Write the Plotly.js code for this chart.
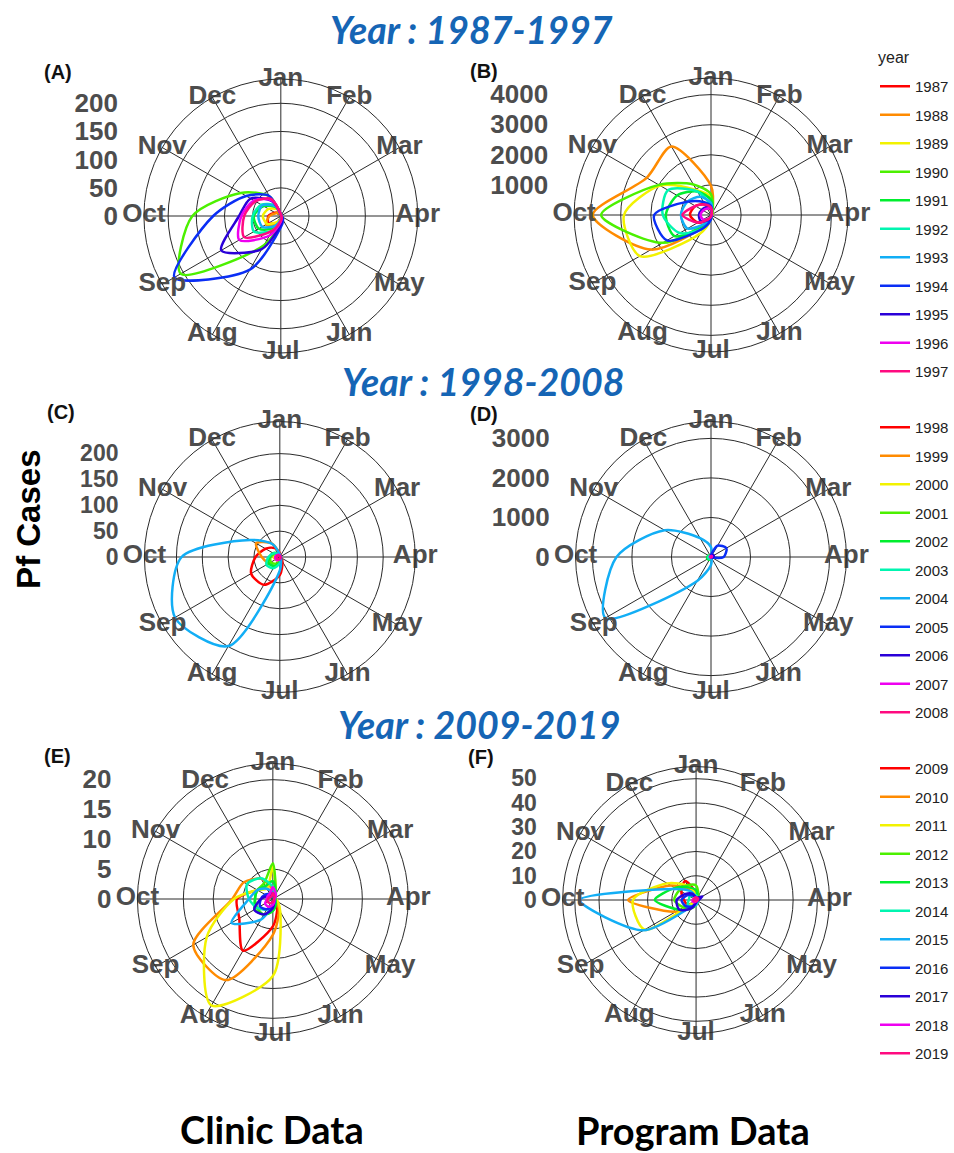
<!DOCTYPE html>
<html>
<head>
<meta charset="utf-8">
<script src="https://cdn.plot.ly/plotly-3.0.1.min.js"></script>
<style>html,body{margin:0;padding:0;background:#fff;}#chart{width:954px;height:1153px;}</style>
</head>
<body>
<div id="chart"></div>
<script>
// ---------- data ----------
const months = ['Jan','Feb','Mar','Apr','May','Jun','Jul','Aug','Sep','Oct','Nov','Dec'];
const yearColors = ['#FF0000','#FF8B00','#F2F200','#4CF000','#00EE2E','#00F5B0','#12AEF5','#0A2EF5','#2A00D8','#EE00F0','#FF0A80'];

const years1 = ['1987','1988','1989','1990','1991','1992','1993','1994','1995','1996','1997'];
const years2 = ['1998','1999','2000','2001','2002','2003','2004','2005','2006','2007','2008'];
const years3 = ['2009','2010','2011','2012','2013','2014','2015','2016','2017','2018','2019'];

// (A) Clinic data 1987-1997, Pf cases per month (Jan..Dec)
const clinicA = [
  [2,1,1,1,1,2,5,15,25,22,12,6],
  [2,1,1,1,1,2,6,18,30,20,10,5],
  [3,1,1,1,1,2,5,12,28,32,25,14],
  [2,1,1,1,2,5,12,60,205,157,82,40],
  [3,1,1,1,1,3,8,25,45,48,35,18],
  [3,1,1,1,1,3,8,30,55,50,40,22],
  [3,1,1,1,1,2,6,20,38,40,38,20],
  [3,2,1,1,3,8,20,110,218,120,71,41],
  [3,1,1,1,2,5,15,68,122,74,62,30],
  [3,1,1,1,1,3,10,40,85,70,55,32],
  [3,1,1,1,1,3,8,30,75,65,52,35]
];
// (B) Program data 1987-1997
const programB = [
  [150,50,20,10,10,20,50,200,500,700,600,400],
  [970,100,40,20,20,40,100,400,2300,3930,2470,2630],
  [600,80,30,20,20,50,150,700,2730,2890,1950,950],
  [690,80,30,20,20,40,100,300,1850,3650,2000,1170],
  [500,60,20,10,10,30,100,400,1400,1500,1300,900],
  [300,50,20,10,10,20,100,500,1200,1600,1650,900],
  [400,50,20,10,10,20,80,300,900,1000,900,700],
  [300,50,20,10,10,30,150,500,1690,1890,890,500],
  [200,40,10,10,10,20,60,200,400,400,350,300],
  [200,50,10,10,10,20,50,150,300,350,300,250],
  [250,50,10,10,10,20,50,150,500,950,600,400]
];
// (C) Clinic data 1998-2008
const clinicC = [
  [8,3,2,2,3,10,35,62,64,47,32,20],
  [5,2,1,1,1,3,10,20,25,35,53,30],
  [3,1,1,1,1,2,4,8,10,12,10,6],
  [4,1,1,1,1,3,8,15,20,18,12,8],
  [4,1,1,1,1,3,10,20,25,20,15,8],
  [3,1,1,1,1,3,12,25,30,22,14,6],
  [5,2,2,2,3,5,26,199,234,190,66,29],
  [3,2,1,1,1,2,4,6,8,8,6,4],
  [3,2,1,1,1,2,4,6,8,8,6,4],
  [3,2,1,1,1,2,4,7,9,9,7,5],
  [2,1,1,1,1,2,3,5,6,6,5,3]
];
// (D) Program data 1998-2008
const programD = [
  [10,5,5,5,5,10,30,60,80,60,30,15],
  [10,5,5,5,5,10,20,40,50,50,30,15],
  [10,5,5,5,5,10,20,30,40,40,30,15],
  [20,5,5,5,5,10,30,60,80,80,60,30],
  [25,5,5,5,5,10,40,80,100,100,70,40],
  [20,5,5,5,5,10,30,60,70,70,50,30],
  [250,20,10,10,15,30,200,700,3085,2390,1355,550],
  [50,330,450,320,30,10,10,10,10,20,20,20],
  [30,60,80,60,10,5,5,5,10,20,20,20],
  [20,30,30,20,10,5,5,10,20,30,30,20],
  [10,10,10,5,5,5,5,10,15,20,15,10]
];
// (E) Clinic data 2009-2019
const clinicE = [
  [1,0.5,0.3,0.3,0.5,1.5,4.6,10,6.5,6,3,2],
  [1.5,0.5,0.3,0.3,0.5,2,6,15.7,15.4,6.8,5.6,3.9],
  [5.5,1,0.5,0.5,1,2.5,12.9,20.6,12.8,6.5,3,2],
  [6,1,0.5,0.5,0.5,1,2,3,3,3,3,3],
  [3,1,0.5,0.5,0.5,1,2,3,3.5,3,3,2.5],
  [2,0.5,0.3,0.3,0.3,0.5,1,2,3,4,5,4],
  [1,0.3,0.2,0.2,0.3,0.5,1,4,8,4,3,2],
  [1,0.5,0.3,0.3,0.3,0.5,1,2,2.5,2,1.5,1],
  [1,0.5,0.3,0.3,0.3,0.5,1.5,3,3.6,2,1,0.5],
  [2,1,0.5,0.3,0.3,0.5,1,1.5,1.5,1,1,1],
  [1,0.5,0.3,0.2,0.2,0.3,0.5,0.8,1,0.8,0.6,0.5]
];
// (F) Program data 2009-2019
const programF = [
  [3,1,0.5,0.5,0.5,0.5,1,2,4,5,7,9],
  [3,1,0.5,0.5,0.5,0.5,1,2,9.6,28,12,5],
  [2,0.5,0.5,0.5,0.5,0.5,1,1,24.5,26,13.7,6.6],
  [6,2,1,0.5,0.5,1,2,3,6,9,8,7],
  [4,1,0.5,0.5,0.5,1,2,4,8,17,10,6],
  [2,1,0.5,0.5,0.5,1,2,3,4,3,3,2],
  [1,0.5,0.5,0.5,0.5,1,2,3,25,48,9,4],
  [1,1,2,1,0.5,0.5,1,3,5,6,4,2],
  [1,1,3,1,0.5,0.5,1,4,8,8,5,3],
  [1,0.5,0.5,0.5,0.5,0.5,0.5,1,1.5,1.5,1,1],
  [1,1,1,0.5,0.5,0.5,0.5,0.5,1,1,1,1]
];

// radial tick values per panel
const ticksA = [0,50,100,150,200];
const ticksB = [1000,2000,3000,4000];
const ticksC = [0,50,100,150,200];
const ticksD = [0,1000,2000,3000];
const ticksE = [0,5,10,15,20];
const ticksF = [0,10,20,30,40,50];

// ---------- layout geometry ----------
const W = 954, H = 1153;
const panels = [
  {id:'',  cx:282, cy:216, R:137.5, rmax:243,  grid:[50,100,150,200],      labels:ticksA, data:clinicA,  years:years1, legend:'legend',  fs:26},
  {id:'2', cx:714, cy:215, R:137.5, rmax:4550, grid:[1000,2000,3000,4000], labels:ticksB, data:programB, years:years1, legend:'legend',  fs:26},
  {id:'3', cx:281, cy:557, R:136,   rmax:262,  grid:[50,100,150,200],      labels:ticksC, data:clinicC,  years:years2, legend:'legend2', fs:23},
  {id:'4', cx:714, cy:557, R:136,   rmax:3425, grid:[1000,2000,3000],      labels:ticksD, data:programD, years:years2, legend:'legend2', fs:26},
  {id:'5', cx:274, cy:899, R:136,   rmax:22.7, grid:[5,10,15,20],          labels:ticksE, data:clinicE,  years:years3, legend:'legend3', fs:26},
  {id:'6', cx:699, cy:900, R:134,   rmax:55,   grid:[10,20,30,40,50],      labels:ticksF, data:programF, years:years3, legend:'legend3', fs:23}
];

const baseFamily = 'Liberation Sans, Arial, sans-serif';
const axisFont = {family:baseFamily, size:26, color:'#4d4d4d', weight:'bold'};
const gridCol = '#2b2b2b';

const traces = [];
const layout = {
  width: W, height: H,
  margin: {l:0, r:0, t:0, b:0},
  paper_bgcolor: '#ffffff',
  plot_bgcolor: 'rgba(0,0,0,0)',
  showlegend: true,
  annotations: []
};

panels.forEach((p, pi) => {
  const polarName = 'polar' + p.id;
  const inLegend = (pi % 2 === 0);
  p.data.forEach((vals, k) => {
    traces.push({
      type: 'scatterpolar',
      subplot: polarName,
      mode: 'lines',
      r: vals.concat([vals[0]]),
      theta: months.concat([months[0]]),
      name: p.years[k],
      legend: p.legend,
      legendgroup: p.years[k],
      showlegend: inLegend,
      line: {color: yearColors[k], width: 2.5, shape: 'spline', smoothing: 0.8},
      hoverinfo: 'skip'
    });
  });
  // month labels sitting on the outer ring
  traces.push({
    type: 'scatterpolar',
    subplot: polarName,
    mode: 'text',
    r: months.map(() => p.rmax),
    theta: months,
    text: months,
    textposition: 'middle center',
    textfont: axisFont,
    cliponaxis: false,
    showlegend: false,
    hoverinfo: 'skip'
  });

  layout[polarName] = {
    domain: {x: [(p.cx - p.R)/W, (p.cx + p.R)/W], y: [1 - (p.cy + p.R)/H, 1 - (p.cy - p.R)/H]},
    bgcolor: 'rgba(0,0,0,0)',
    angularaxis: {
      type: 'category', categoryorder: 'array', categoryarray: months,
      rotation: 90, direction: 'clockwise',
      showticklabels: false, ticks: '',
      showgrid: true, gridcolor: gridCol, gridwidth: 1,
      showline: true, linecolor: gridCol, linewidth: 1
    },
    radialaxis: {
      range: [0, p.rmax], tickvals: p.grid,
      showticklabels: false, ticks: '', showline: false,
      showgrid: true, gridcolor: gridCol, gridwidth: 1
    }
  };

  // radial value labels: a cartesian y-axis standing to the left of the circle
  const xPos = (p.cx - p.R - 25) / W;
  layout['xaxis' + p.id] = {domain: [xPos, xPos + 0.002], visible: false, fixedrange: true, anchor: 'y' + p.id};
  layout['yaxis' + p.id] = {
    domain: [1 - p.cy/H, 1 - (p.cy - p.R)/H],
    range: [0, p.rmax], tickvals: p.labels, ticks: '',
    showgrid: false, zeroline: false, showline: false,
    tickfont: Object.assign({}, axisFont, {size: p.fs}), anchor: 'x' + p.id, fixedrange: true
  };
  traces.push({type:'scatter', x:[], y:[], xaxis:'x' + p.id, yaxis:'y' + p.id, showlegend:false, hoverinfo:'skip'});
});

// legends
const legendBase = {
  xanchor: 'left', x: 879/W, yanchor: 'top',
  bgcolor: 'rgba(0,0,0,0)', borderwidth: 0,
  font: {family:baseFamily, size:15, color:'#222'},
  itemwidth: 30, tracegroupgap: 6, traceorder: 'grouped'
};
layout.legend  = Object.assign({}, legendBase, {y: 1 - 70/H});
layout.legend2 = Object.assign({}, legendBase, {y: 1 - 411/H});
layout.legend3 = Object.assign({}, legendBase, {y: 1 - 752/H});

// text annotations
function ann(text, x, y, font, extra) {
  layout.annotations.push(Object.assign({
    text: text, x: x/W, y: 1 - y/H, xref: 'paper', yref: 'paper',
    xanchor: 'center', yanchor: 'middle', showarrow: false, font: font
  }, extra || {}));
}
ann('year', 880, 57, {family:baseFamily, size:16, color:'#222'}, {xanchor:'left'});

const titleFont = {family:'Lato, Open Sans, sans-serif', size:37.5, color:'#1565b5', weight:'bold', style:'italic'};
ann('Year : 1987-1997', 473, 29, titleFont);
ann('Year : 1998-2008', 485, 381, titleFont);
ann('Year : 2009-2019', 481, 724, titleFont);

const tagFont = {family:baseFamily, size:20, color:'#111', weight:'bold'};
ann('(A)', 58, 72, tagFont);
ann('(B)', 486, 71, tagFont);
ann('(C)', 61, 412, tagFont);
ann('(D)', 486, 414, tagFont);
ann('(E)', 58, 756, tagFont);
ann('(F)', 483, 757, tagFont);

ann('Pf Cases', 28, 519, {family:baseFamily, size:33, color:'#000', weight:'bold'}, {textangle: -90});

const footFont = {family:'Lato, Open Sans, sans-serif', size:38, color:'#000', weight:'bold'};
ann('Clinic Data', 273, 1129, footFont);
ann('Program Data', 696, 1130, footFont);

Plotly.newPlot('chart', traces, layout, {staticPlot: true, displayModeBar: false});
</script>
</body>
</html>
